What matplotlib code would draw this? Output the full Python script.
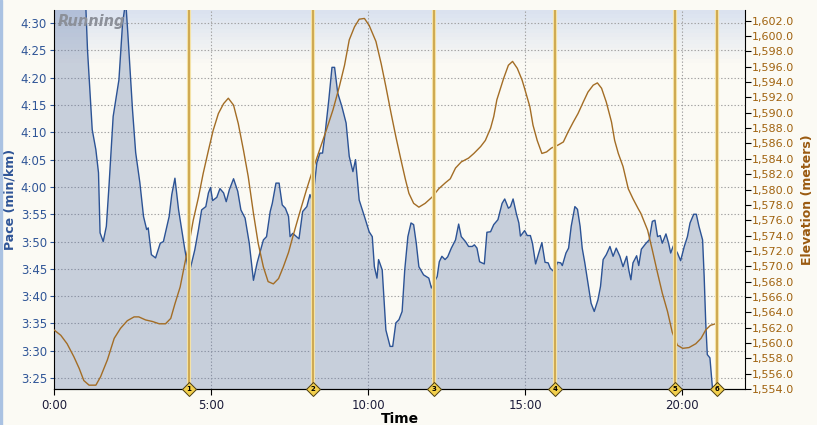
import numpy as np
import matplotlib.pyplot as plt
from matplotlib.patches import Rectangle
from matplotlib.ticker import FuncFormatter, MultipleLocator

# pace (seconds per km) against elapsed time (seconds)
pace_t = [0, 40, 61, 64, 73, 80, 85, 88, 94, 100, 105, 113, 118, 124, 131, 137, 141, 150, 156, 164,
          171, 177, 180, 186, 194, 203, 209, 220, 225, 231, 238, 244, 250, 258, 263, 269, 276, 282, 290, 295,
          299, 303, 311, 317, 324, 329, 335, 343, 351, 357, 365, 373, 381, 388, 400, 406, 413, 417, 424, 430,
          436, 442, 448, 451, 456, 468, 475, 483, 489, 494, 502, 508, 513, 518, 525, 531, 536, 542, 550, 558,
          564, 571, 576, 583, 593, 602, 608, 612, 617, 620, 627, 634, 642, 647, 653, 659, 665, 670, 676, 682,
          687, 692, 697, 706, 716, 721, 727, 732, 736, 741, 747, 752, 759, 767, 773, 778, 786, 792, 799, 803,
          808, 813, 822, 827, 834, 840, 848, 856, 861, 868, 872, 877, 883, 888, 891, 899, 904, 910, 914, 920,
          926, 932, 938, 944, 948, 955, 962, 968, 971, 978, 983, 988, 995, 1000, 1005, 1009, 1014, 1020, 1026, 1032,
          1039, 1044, 1049, 1055, 1062, 1068, 1074, 1081, 1087, 1094, 1098, 1102, 1106, 1113, 1117, 1122, 1131, 1137, 1143, 1148,
          1153, 1158, 1162, 1169, 1174, 1178, 1183, 1191, 1197, 1204, 1210, 1215, 1222, 1227, 1232, 1239, 1242, 1245, 1248, 1253,
          1258]
pace_s = [290, 285, 272.5, 265.1, 250.5, 246.8, 242.6, 231.6, 230.0, 232.8, 240.1, 252.9, 256.0, 259.6, 270.0, 274.0, 268.2, 254.1, 246.3, 240.8,
          234.6, 232.2, 232.5, 227.6, 227.0, 229.7, 230.0, 234.6, 238.6, 241.6, 235.8, 232.2, 228.5, 224.2, 226.1, 228.5, 232.2, 235.8, 236.4, 238.9,
          239.9, 237.5, 238.1, 239.7, 238.9, 237.3, 239.5, 241.5, 239.2, 235.8, 234.3, 229.7, 222.9, 226.1, 230.3, 230.9, 235.5, 237.0, 240.7, 240.7,
          236.7, 236.1, 234.6, 230.9, 231.5, 230.5, 235.5, 236.4, 238.6, 237.3, 244.4, 246.2, 246.2, 249.9, 256.0, 261.9, 261.9, 257.2, 254.7, 251.7,
          245.6, 242.8, 245.0, 237.6, 234.6, 231.8, 230.9, 225.4, 223.3, 226.7, 224.8, 213.8, 210.8, 210.8, 215.1, 215.7, 217.2, 224.8, 230.9, 233.4,
          233.1, 229.7, 225.4, 223.9, 223.3, 221.5, 222.7, 223.6, 226.3, 227.3, 226.7, 227.2, 228.8, 230.3, 233.2, 230.9, 230.0, 229.1, 229.1, 229.4,
          228.8, 226.3, 225.9, 231.7, 231.8, 233.1, 234.0, 237.0, 237.8, 236.1, 236.4, 237.8, 235.2, 233.4, 231.0, 232.0, 231.1, 231.1, 229.7, 225.9,
          227.9, 229.8, 226.2, 226.1, 225.1, 224.5, 226.2, 226.1, 225.6, 227.9, 228.8, 232.8, 236.4, 235.9, 232.8, 228.8, 226.1, 222.4, 218.7, 217.2,
          219.3, 221.8, 226.7, 227.6, 229.1, 227.3, 228.8, 227.3, 225.4, 227.3, 224.8, 223.0, 226.1, 227.4, 225.6, 228.6, 229.7, 230.3, 233.7, 233.9,
          230.9, 231.1, 229.7, 231.4, 229.7, 227.9, 229.2, 227.9, 226.5, 229.1, 230.9, 233.4, 235.0, 235.0, 232.8, 230.3, 223.6, 215.1, 209.3, 208.7,
          203.0]

# elevation (meters) against elapsed time (seconds)
elev_t = [0, 13, 25, 38, 48, 57, 67, 80, 89, 102, 115, 127, 140, 153, 162, 175, 188, 201, 213, 223,
          231, 241, 250, 258, 266, 276, 285, 295, 304, 314, 324, 333, 343, 352, 362, 371, 381, 390, 400, 409,
          419, 429, 438, 448, 456, 469, 482, 494, 507, 520, 533, 545, 555, 564, 574, 583, 593, 602, 615, 625,
          634, 644, 653, 663, 671, 678, 687, 697, 709, 722, 735, 748, 757, 767, 778, 792, 802, 815, 824, 834,
          840, 846, 853, 859, 868, 876, 885, 894, 898, 909, 915, 923, 932, 941, 950, 963, 973, 982, 992, 1001,
          1011, 1020, 1030, 1038, 1046, 1055, 1065, 1071, 1078, 1087, 1097, 1106, 1116, 1121, 1134, 1143, 1153, 1162, 1172, 1181,
          1191, 1201, 1213, 1226, 1236, 1245, 1254, 1264]
elev_m = [1561.7, 1561.0, 1559.9, 1558.2, 1556.7, 1555.1, 1554.5, 1554.5, 1555.6, 1557.8, 1560.6, 1561.9, 1562.9, 1563.4, 1563.4, 1563.0, 1562.8, 1562.5, 1562.5, 1563.2,
          1565.1, 1567.3, 1570.4, 1573.0, 1576.0, 1579.0, 1582.1, 1585.1, 1587.7, 1589.9, 1591.2, 1591.9, 1591.0, 1588.6, 1585.1, 1581.7, 1576.9, 1573.0, 1569.9, 1568.0,
          1567.7, 1568.4, 1569.9, 1571.8, 1573.8, 1576.9, 1579.9, 1582.5, 1585.1, 1587.7, 1590.4, 1593.4, 1596.2, 1599.5, 1601.2, 1602.2, 1602.3, 1601.4, 1599.3, 1596.4,
          1593.4, 1589.9, 1586.9, 1583.8, 1581.4, 1579.5, 1578.2, 1577.7, 1578.2, 1579.0, 1580.1, 1580.9, 1581.4, 1582.8, 1583.6, 1584.1, 1584.7, 1585.6, 1586.4, 1588.0,
          1589.5, 1591.7, 1593.2, 1594.5, 1596.2, 1596.7, 1595.8, 1594.3, 1593.4, 1590.8, 1588.4, 1586.4, 1584.7, 1584.9, 1585.4, 1585.8, 1586.2, 1587.5, 1588.8, 1589.9,
          1591.4, 1592.7, 1593.6, 1593.9, 1593.2, 1591.4, 1588.8, 1586.4, 1584.7, 1583.0, 1580.1, 1578.8, 1577.5, 1576.9, 1574.7, 1572.1, 1569.1, 1566.5, 1564.1, 1561.4,
          1559.7, 1559.3, 1559.4, 1559.9, 1560.6, 1561.7, 1562.3, 1562.5]

lap_times = [258, 494, 726, 957, 1186, 1267]
lap_names = ['1', '2', '3', '4', '5', '6']

pace_ticks = list(range(205, 271, 5))
time_ticks = [0, 300, 600, 900, 1200]

BG = '#fbfaf4'
fig = plt.figure(figsize=(8.17, 4.25), dpi=100, facecolor=BG)
ax = fig.add_axes([54/817, 36/425, 691/817, 379/425])
ax.set_facecolor(BG)

# light header gradient at the top of the plot area
grad = np.ones((100, 1, 4))
top = np.array([0.86, 0.89, 0.94])
base = np.array([251, 250, 244]) / 255
k = np.clip((np.linspace(1, 0, 100) - 0.86) / 0.14, 0, 1)[:, None]
grad[:, 0, :3] = base + (top - base) * k
ax.imshow(grad, extent=[0, 1, 0, 1], transform=ax.transAxes, aspect='auto', zorder=0)

ax.fill_between(pace_t, pace_s, 0, color='#5f78aa', alpha=0.33, lw=0, zorder=2)
ax.plot(pace_t, pace_s, color='#2c5395', lw=1.0, zorder=3)

ax.set_xlim(0, 1320)
ax.set_ylim(203, 272.4)
ax.set_yticks(pace_ticks)
ax.yaxis.set_major_formatter(FuncFormatter(lambda v, p: f'{int(v) // 60}:{int(v) % 60:02d}'))
ax.set_xticks(time_ticks)
ax.xaxis.set_major_formatter(FuncFormatter(lambda v, p: f'{int(v) // 60}:{int(v) % 60:02d}'))
ax.grid(True, color='#a0a0a0', ls=(0, (1.2, 1.8)), lw=0.8)
for gl in ax.get_xgridlines() + ax.get_ygridlines():
    gl.set_zorder(1.5)

ax.tick_params(axis='y', colors='#2f5597', labelsize=8.5, length=3, width=0.8, pad=2)
ax.tick_params(axis='x', colors='#000000', labelcolor='#1c1c3a', labelsize=8.5, length=4, pad=3)
ax.spines['top'].set_visible(False)
ax.spines['right'].set_visible(False)
ax.set_ylabel('Pace (min/km)', color='#2f5597', fontsize=9, fontweight='bold', labelpad=3)
ax.set_xlabel('Time', fontsize=10, fontweight='bold', labelpad=0)

ax2 = ax.twinx()
ax2.plot(elev_t, elev_m, color='#a36d25', lw=1.0, zorder=3)
ax2.set_ylim(1554, 1603.4)
ax2.yaxis.set_major_locator(MultipleLocator(2))
ax2.yaxis.set_major_formatter(FuncFormatter(lambda v, p: f'{v:,.1f}'))
ax2.tick_params(axis='y', colors='#000000', labelcolor='#a0620e', labelsize=8, length=4, width=0.8, pad=1)
ax2.spines['top'].set_visible(False)
ax2.spines['left'].set_visible(False)
ax2.set_ylabel('Elevation (meters)', color='#9a5a10', fontsize=9, fontweight='bold', labelpad=5)

# lap markers
for t, name in zip(lap_times, lap_names):
    ax2.axvline(t, color='#f4e2a6', lw=3.0, zorder=4)
    ax2.axvline(t, color='#c49a3a', lw=1.1, zorder=5)
    ax2.plot([t], [0], marker='D', ms=7.5, mfc='#f2cf4c', mec='#4a3c10', mew=0.7,
             transform=ax2.get_xaxis_transform(), clip_on=False, zorder=6)
    ax2.text(t, 0, name, fontsize=5, fontweight='bold', ha='center', va='center',
             transform=ax2.get_xaxis_transform(), zorder=7)

ax.text(0.006, 0.99, 'Running', transform=ax.transAxes, fontsize=10.5, fontweight='bold',
        fontstyle='italic', color='#8c9099', ha='left', va='top', zorder=8)

fig.patches.append(Rectangle((0, 0), 2/817, 1, transform=fig.transFigure, color='#aac2e2'))

fig.savefig('out.png', dpi=100, facecolor=BG)
